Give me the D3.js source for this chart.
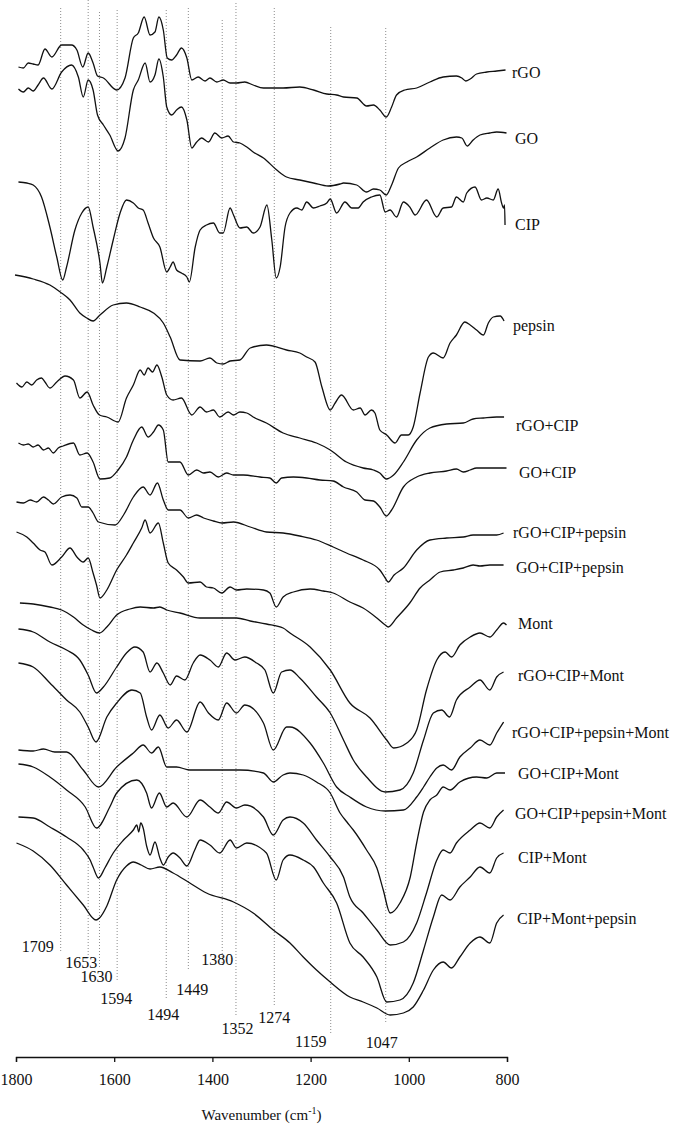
<!DOCTYPE html>
<html>
<head>
<meta charset="utf-8">
<script src="https://cdn.jsdelivr.net/npm/d3@7"></script>
<style>
  body { margin: 0; background: #fff; }
  svg text { font-family: "Liberation Serif", "Times New Roman", serif; fill: #111; }
</style>
</head>
<body>
<script>
// stacked FTIR spectra: [wavenumber, stacked offset (a.u., grows downward)]
var rGO = [[1795,67],[1785,68],[1775,63],[1765,64],[1755,65],[1741,49],[1727,57],[1707,45],[1687,45],[1676,50],[1664,67],[1653,53],[1643,63],[1634,76],[1622,78],[1595,90],[1578,78],[1561,38],[1551,33],[1539,17],[1527,35],[1517,32],[1509,17],[1500,30],[1492,58],[1483,60],[1473,55],[1463,48],[1452,58],[1442,80],[1429,77],[1415,81],[1405,78],[1391,82],[1378,80],[1364,83],[1351,83],[1334,82],[1317,85],[1296,88],[1256,88],[1222,87],[1194,90],[1167,94],[1147,95],[1133,97],[1106,98],[1086,106],[1072,105],[1059,110],[1046,117],[1035,107],[1025,95],[1008,90],[984,88],[957,82],[930,77],[903,76],[892,78],[884,81],[875,79],[862,74],[841,72],[821,71],[803,70]];
var GO = [[1795,89],[1785,92],[1775,88],[1765,91],[1755,85],[1744,78],[1727,89],[1707,72],[1687,65],[1673,77],[1663,97],[1653,80],[1643,90],[1634,115],[1622,125],[1609,135],[1592,151],[1578,138],[1561,90],[1551,80],[1537,63],[1527,82],[1517,75],[1509,59],[1500,77],[1493,107],[1483,115],[1473,110],[1463,107],[1452,120],[1442,148],[1432,142],[1422,138],[1408,142],[1395,133],[1381,138],[1368,136],[1357,142],[1344,143],[1330,147],[1317,152],[1296,158],[1269,170],[1249,177],[1222,180],[1194,183],[1164,186],[1140,184],[1133,183],[1106,185],[1086,192],[1072,189],[1059,190],[1046,195],[1035,185],[1021,168],[1004,162],[984,157],[957,148],[930,140],[903,137],[892,138],[881,146],[869,140],[855,135],[835,133],[821,132],[801,133]];
var CIP = [[1795,182],[1778,183],[1765,185],[1748,197],[1731,227],[1717,257],[1705,280],[1697,267],[1680,230],[1666,213],[1653,207],[1643,227],[1629,263],[1624,283],[1615,267],[1602,240],[1588,213],[1575,200],[1561,203],[1551,208],[1541,210],[1531,223],[1520,238],[1507,247],[1493,272],[1486,267],[1480,262],[1473,270],[1463,273],[1452,277],[1447,282],[1435,247],[1425,230],[1412,225],[1398,223],[1385,233],[1378,233],[1364,208],[1357,215],[1344,228],[1330,227],[1317,233],[1303,227],[1289,205],[1279,240],[1270,278],[1262,267],[1252,227],[1242,213],[1228,208],[1218,210],[1208,202],[1194,208],[1181,206],[1167,203],[1160,199],[1147,213],[1130,202],[1116,208],[1103,208],[1093,202],[1076,197],[1059,195],[1048,212],[1038,210],[1025,217],[1011,202],[998,207],[987,215],[964,200],[943,217],[930,208],[913,207],[903,197],[889,202],[882,193],[865,187],[852,200],[841,198],[828,200],[818,189],[811,203],[807,208],[805,205],[804,225]];
var pepsin = [[1802,275],[1765,279],[1731,285],[1710,292],[1690,300],[1670,313],[1656,318],[1643,321],[1629,315],[1602,305],[1575,303],[1547,307],[1520,313],[1500,323],[1486,337],[1466,360],[1425,361],[1405,358],[1391,363],[1378,364],[1364,361],[1344,360],[1323,348],[1290,345],[1249,350],[1222,353],[1208,357],[1191,362],[1177,387],[1160,410],[1150,403],[1137,395],[1113,410],[1099,408],[1089,415],[1076,410],[1069,413],[1059,430],[1045,435],[1028,443],[1015,435],[1001,435],[991,427],[977,393],[960,357],[950,353],[930,358],[916,343],[903,335],[886,322],[875,325],[862,330],[848,335],[838,323],[828,317],[814,316],[806,321]];
var rGO_CIP = [[1799,383],[1788,387],[1778,382],[1768,385],[1758,380],[1748,378],[1741,382],[1731,388],[1717,382],[1700,376],[1683,380],[1670,398],[1655,392],[1643,405],[1630,415],[1615,417],[1592,422],[1575,398],[1561,385],[1547,370],[1539,375],[1531,368],[1522,372],[1513,365],[1503,377],[1493,395],[1480,400],[1463,398],[1442,415],[1425,407],[1412,412],[1398,410],[1385,417],[1368,412],[1357,415],[1344,412],[1330,413],[1317,417],[1290,423],[1256,433],[1222,438],[1188,443],[1160,450],[1127,462],[1093,468],[1072,470],[1059,473],[1046,479],[1031,475],[1011,462],[984,440],[957,428],[923,424],[889,423],[869,419],[848,418],[821,417],[806,417]];
var GO_CIP = [[1795,443],[1785,445],[1775,444],[1765,447],[1755,445],[1744,450],[1734,448],[1724,453],[1714,448],[1704,446],[1683,443],[1670,455],[1655,453],[1643,462],[1629,479],[1609,478],[1592,470],[1575,457],[1561,440],[1544,427],[1531,437],[1520,432],[1510,425],[1500,430],[1490,462],[1466,462],[1449,475],[1432,470],[1418,473],[1405,472],[1388,477],[1371,473],[1357,475],[1337,475],[1303,477],[1283,478],[1270,483],[1259,478],[1235,477],[1208,478],[1181,480],[1154,481],[1133,487],[1106,492],[1089,500],[1072,501],[1059,507],[1046,516],[1035,510],[1011,487],[984,477],[957,473],[923,471],[903,469],[889,472],[875,470],[862,468],[841,468],[821,468],[801,468]];
var rGO_CIP_pepsin = [[1799,502],[1785,503],[1771,500],[1758,502],[1744,497],[1734,500],[1724,504],[1707,497],[1690,495],[1676,498],[1666,507],[1653,507],[1643,513],[1632,522],[1598,525],[1581,515],[1561,497],[1541,487],[1527,495],[1512,483],[1500,500],[1490,510],[1466,510],[1449,518],[1432,515],[1418,518],[1398,521],[1381,523],[1357,522],[1323,527],[1290,532],[1256,533],[1222,536],[1188,540],[1154,547],[1127,553],[1093,560],[1059,570],[1048,578],[1042,582],[1030,575],[1011,568],[984,550],[957,540],[923,538],[889,537],[869,535],[848,535],[821,535],[807,533]];
var GO_CIP_pepsin = [[1799,532],[1778,537],[1765,543],[1751,550],[1741,552],[1727,565],[1707,557],[1690,548],[1676,557],[1663,562],[1653,558],[1643,573],[1636,585],[1629,598],[1615,590],[1595,570],[1575,555],[1561,543],[1544,528],[1537,520],[1527,533],[1510,523],[1500,543],[1490,563],[1473,570],[1459,577],[1449,583],[1425,582],[1412,587],[1398,588],[1381,593],[1364,587],[1351,590],[1330,589],[1296,590],[1283,593],[1270,607],[1256,597],[1235,592],[1201,589],[1174,591],[1154,593],[1120,602],[1093,608],[1065,618],[1048,625],[1042,627],[1025,618],[998,603],[977,588],[957,580],[936,572],[909,570],[889,568],[869,565],[855,566],[835,565],[807,565]];
var Mont = [[1792,603],[1765,604],[1731,607],[1707,610],[1683,617],[1663,625],[1646,630],[1630,633],[1615,627],[1595,615],[1568,609],[1547,607],[1520,608],[1507,607],[1493,610],[1466,613],[1425,618],[1391,618],[1351,618],[1323,621],[1290,624],[1256,628],[1242,633],[1201,647],[1160,670],[1120,703],[1079,718],[1045,740],[1031,748],[1004,743],[984,730],[964,690],[943,660],[926,652],[913,657],[896,645],[875,637],[855,633],[835,637],[821,630],[807,623],[801,625]];
var rGO_CIP_Mont = [[1795,629],[1765,632],[1731,642],[1697,650],[1670,660],[1653,675],[1636,693],[1622,687],[1595,667],[1575,653],[1558,647],[1541,652],[1527,672],[1513,663],[1500,673],[1486,685],[1473,676],[1456,680],[1439,663],[1425,655],[1405,660],[1388,667],[1371,653],[1354,660],[1334,657],[1310,663],[1293,670],[1276,693],[1259,672],[1242,670],[1222,678],[1188,697],[1160,713],[1133,740],[1113,760],[1086,777],[1048,792],[1018,790],[991,773],[970,740],[950,713],[933,710],[917,717],[903,700],[875,687],[855,680],[835,690],[821,677],[807,672]];
var rGO_CIP_pepsin_Mont = [[1795,663],[1765,667],[1731,683],[1697,700],[1670,712],[1653,727],[1637,742],[1615,717],[1595,703],[1564,690],[1547,693],[1534,717],[1524,730],[1507,715],[1490,728],[1473,720],[1452,732],[1425,702],[1408,713],[1388,720],[1371,703],[1351,713],[1334,705],[1296,723],[1276,750],[1249,727],[1242,727],[1201,743],[1174,763],[1147,787],[1120,797],[1086,807],[1048,811],[1011,810],[984,797],[970,787],[957,777],[943,768],[930,765],[913,770],[896,757],[875,748],[855,740],[835,745],[821,733],[807,722]];
var GO_CIP_Mont = [[1795,750],[1765,751],[1744,749],[1721,752],[1697,752],[1663,770],[1632,787],[1595,767],[1561,753],[1541,745],[1524,753],[1510,747],[1493,767],[1473,767],[1446,770],[1412,770],[1371,770],[1344,770],[1296,773],[1276,782],[1256,775],[1242,773],[1215,775],[1188,782],[1160,793],[1140,813],[1126,822],[1113,830],[1086,850],[1065,868],[1052,890],[1038,913],[1018,903],[997,877],[984,843],[970,812],[957,800],[943,795],[930,787],[916,790],[896,782],[862,777],[841,778],[821,773],[804,773]];
var GO_CIP_pepsin_Mont = [[1795,764],[1765,767],[1731,777],[1697,790],[1659,807],[1636,828],[1609,807],[1595,793],[1554,780],[1534,793],[1524,808],[1508,793],[1493,807],[1480,803],[1452,817],[1425,800],[1405,807],[1388,813],[1371,802],[1351,808],[1334,805],[1296,817],[1276,835],[1256,820],[1242,817],[1215,823],[1188,840],[1160,857],[1133,877],[1120,897],[1093,913],[1065,930],[1038,945],[1011,942],[984,923],[964,893],[943,860],[930,850],[916,853],[903,843],[875,830],[855,823],[835,828],[821,817],[807,810]];
var CIP_Mont = [[1795,817],[1765,818],[1731,827],[1697,837],[1663,850],[1649,860],[1643,867],[1632,878],[1619,868],[1602,853],[1581,840],[1561,830],[1554,825],[1550,832],[1546,823],[1541,828],[1534,846],[1527,855],[1517,842],[1507,858],[1500,865],[1490,857],[1480,853],[1466,858],[1452,866],[1436,850],[1425,840],[1405,845],[1385,853],[1364,840],[1351,848],[1330,843],[1290,853],[1270,880],[1256,860],[1242,855],[1215,860],[1194,867],[1174,883],[1147,903],[1120,943],[1093,957],[1065,977],[1045,1002],[1018,1000],[991,983],[970,950],[950,917],[933,895],[916,900],[896,887],[875,877],[855,867],[835,873],[821,858],[807,853]];
var CIP_Mont_pepsin = [[1799,843],[1765,851],[1731,865],[1697,885],[1663,905],[1637,920],[1630,918],[1615,906],[1595,880],[1575,866],[1561,862],[1545,865],[1527,869],[1507,867],[1480,873],[1446,883],[1412,893],[1357,902],[1317,913],[1276,930],[1242,943],[1215,957],[1188,970],[1160,982],[1120,997],[1093,1002],[1065,1008],[1038,1015],[1011,1013],[991,1007],[970,990],[950,970],[930,962],[913,968],[896,957],[875,943],[855,937],[835,943],[821,923],[807,915]];

var spectrumNames = ["rGO", "GO", "CIP", "pepsin", "rGO+CIP", "GO+CIP", "rGO+CIP+pepsin", "GO+CIP+pepsin",
                     "Mont", "rGO+CIP+Mont", "rGO+CIP+pepsin+Mont", "GO+CIP+Mont", "GO+CIP+pepsin+Mont",
                     "CIP+Mont", "CIP+Mont+pepsin"];
var spectrumData = [rGO, GO, CIP, pepsin, rGO_CIP, GO_CIP, rGO_CIP_pepsin, GO_CIP_pepsin,
                    Mont, rGO_CIP_Mont, rGO_CIP_pepsin_Mont, GO_CIP_Mont, GO_CIP_pepsin_Mont,
                    CIP_Mont, CIP_Mont_pepsin];

var peakWavenumbers = [1709, 1653, 1630, 1594, 1494, 1449, 1380, 1352, 1274, 1159, 1047];
var xTicks = [1800, 1600, 1400, 1200, 1000, 800];

// layout only (where the hand-placed bits sit)
var labelLeft = [512, 515, 515, 513, 516, 519, 513, 516, 518, 518, 512, 518, 515, 518, 517];
var labelMid  = [72, 138, 224, 325, 425, 472, 532, 567, 623, 675, 732, 773, 813, 857, 918];
var peakTop    = [8, 0, 12, 10, 10, 8, 20, 3, 8, 27, 28];
var peakBottom = [953, 960, 967, 980, 1000, 970, 963, 1017, 1005, 1033, 1023];
var peakLabelDx  = [-23, -7, -3, -1, -3, 4, -5, 1.5, 0, -20, -4];
var peakLabelMid = [946, 962, 976, 998, 1014, 989, 959, 1028, 1017, 1041, 1042];

var serif = "Liberation Serif, Times New Roman, serif";
var width = 675, height = 1127;
var axisY = 1057;

var svg = d3.select("body").append("svg")
            .attr("width", width)
            .attr("height", height)
            .attr("font-family", serif);

var x = d3.scaleLinear().domain([1800, 800]).range([16, 507]);
var y = d3.scaleLinear().domain([0, 1127]).range([0, 1127]);

// dotted guide lines at the assigned peaks
svg.append("g").selectAll("line")
   .data(peakWavenumbers)
   .enter()
   .append("line")
   .attr("x1", function (d) { return x(d); })
   .attr("x2", function (d) { return x(d); })
   .attr("y1", function (d, i) { return peakTop[i]; })
   .attr("y2", function (d, i) { return peakBottom[i]; })
   .attr("stroke", "#8c8c8c")
   .attr("stroke-width", 1)
   .attr("stroke-dasharray", "1,2");

svg.append("g").selectAll("text")
   .data(peakWavenumbers)
   .enter()
   .append("text")
   .attr("x", function (d, i) { return x(d) + peakLabelDx[i]; })
   .attr("y", function (d, i) { return peakLabelMid[i]; })
   .attr("dy", "0.35em")
   .attr("text-anchor", "middle")
   .attr("font-family", serif)
   .attr("font-size", 16)
   .text(function (d) { return d; });

var line = d3.line()
             .x(function (d) { return x(d[0]); })
             .y(function (d) { return y(d[1]); })
             .curve(d3.curveMonotoneX);

svg.append("g").selectAll("path")
   .data(spectrumData)
   .enter()
   .append("path")
   .attr("d", line)
   .attr("fill", "none")
   .attr("stroke", "#111")
   .attr("stroke-width", 1.3)
   .attr("stroke-linejoin", "round");

svg.append("g").selectAll("text")
   .data(spectrumNames)
   .enter()
   .append("text")
   .attr("x", function (d, i) { return labelLeft[i]; })
   .attr("y", function (d, i) { return labelMid[i]; })
   .attr("dy", "0.35em")
   .attr("font-family", serif)
   .attr("font-size", 16)
   .text(function (d) { return d; });

// x axis
var axis = svg.append("g")
              .attr("transform", "translate(0," + axisY + ")")
              .call(d3.axisBottom(x)
                      .tickValues(xTicks)
                      .tickSize(5)
                      .tickSizeOuter(5)
                      .tickPadding(12)
                      .tickFormat(d3.format("d")));
axis.attr("font-family", serif);
axis.selectAll("path, line").attr("stroke", "#111").attr("stroke-width", 1.3);
axis.selectAll("text")
    .attr("font-family", serif)
    .attr("font-size", 16)
    .attr("fill", "#111");

var title = svg.append("text")
               .attr("x", (x(1800) + x(800)) / 2)
               .attr("y", 1120)
               .attr("text-anchor", "middle")
               .attr("font-family", serif)
               .attr("font-size", 15);
title.append("tspan").text("Wavenumber (cm");
title.append("tspan").attr("font-size", 10).attr("dy", -6).text("-1");
title.append("tspan").attr("dy", 6).text(")");
</script>
</body>
</html>
